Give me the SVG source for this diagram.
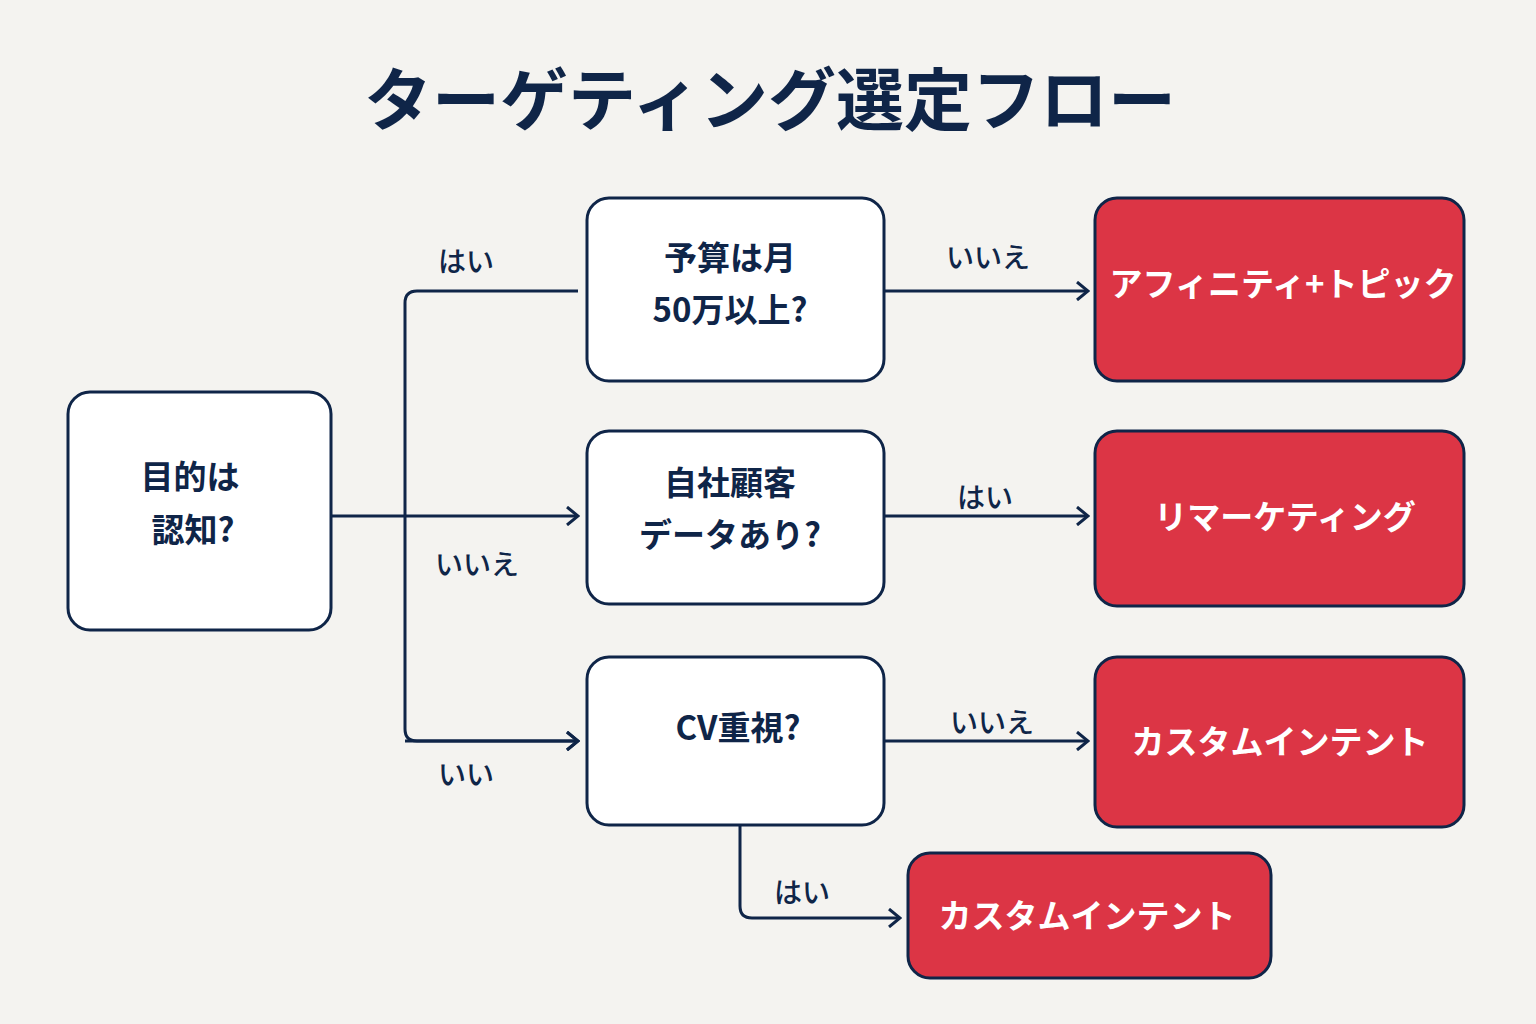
<svg xmlns="http://www.w3.org/2000/svg" width="1536" height="1024" viewBox="0 0 1536 1024">
<defs>
<style>
.t{font-family:"Noto Sans CJK JP","Noto Sans",sans-serif;fill:#0f2548;text-anchor:middle}
.n{fill:#fff;stroke:#0f2548;stroke-width:3}
.r{fill:#dc3545;stroke:#0f2548;stroke-width:3}
.q{font-size:33px;font-weight:700}
.w{font-size:33px;font-weight:700;fill:#fff}
.l{font-size:28px;font-weight:500}
.c{fill:none;stroke:#0f2548;stroke-width:3}
</style>
<marker id="a" markerWidth="14" markerHeight="20" refX="12" refY="10" orient="auto" markerUnits="userSpaceOnUse">
<path d="M1,1 L12,10 L1,19" fill="none" stroke="#0f2548" stroke-width="3"/>
</marker>
</defs>
<rect width="1536" height="1024" fill="#f4f3f0"/>
<text class="t" x="770" y="125" font-size="68" font-weight="700">ターゲティング選定フロー</text>
<g id="connectors">
<path class="c" d="M331,516 H405"/>
<path class="c" d="M578,291 H417 Q405,291 405,303 V729 Q405,741 417,741 H578" marker-end="url(#a)"/>
<path class="c" d="M405,516 H578" marker-end="url(#a)"/>
<path class="c" d="M405,741 H578" marker-end="url(#a)"/>
<path class="c" d="M884,291 H1088" marker-end="url(#a)"/>
<path class="c" d="M884,516 H1088" marker-end="url(#a)"/>
<path class="c" d="M884,741 H1088" marker-end="url(#a)"/>
<path class="c" d="M740,825 V906 Q740,918 752,918 H900" marker-end="url(#a)"/>
<text class="t l" x="466" y="272">はい</text>
<text class="t l" x="477" y="575">いいえ</text>
<text class="t l" x="466" y="785">いい</text>
<text class="t l" x="988" y="268">いいえ</text>
<text class="t l" x="985" y="508">はい</text>
<text class="t l" x="992" y="733">いいえ</text>
<text class="t l" x="802" y="903">はい</text>
</g>
<g id="start"><rect class="n" x="68" y="392" width="263" height="238" rx="22"/>
<text class="t q" x="190" y="489">目的は</text><text class="t q" x="193" y="542">認知?</text></g>
<g id="q1"><rect class="n" x="587" y="198" width="297" height="183" rx="22"/>
<text class="t q" x="730" y="270">予算は月</text><text class="t q" x="730" y="322">50万以上?</text></g>
<g id="q2"><rect class="n" x="587" y="431" width="297" height="173" rx="22"/>
<text class="t q" x="730" y="495">自社顧客</text><text class="t q" x="730" y="547">データあり?</text></g>
<g id="q3"><rect class="n" x="587" y="657" width="297" height="168" rx="22"/>
<text class="t q" x="738" y="740">CV重視?</text></g>
<g id="r1"><rect class="r" x="1095" y="198" width="369" height="183" rx="22"/>
<text class="t w" x="1283" y="296">アフィニティ+トピック</text></g>
<g id="r2"><rect class="r" x="1095" y="431" width="369" height="175" rx="22"/>
<text class="t w" x="1285" y="529">リマーケティング</text></g>
<g id="r3"><rect class="r" x="1095" y="657" width="369" height="170" rx="22"/>
<text class="t w" x="1280" y="754">カスタムインテント</text></g>
<g id="r4"><rect class="r" x="908" y="853" width="363" height="125" rx="22"/>
<text class="t w" x="1087" y="928">カスタムインテント</text></g>
</svg>
